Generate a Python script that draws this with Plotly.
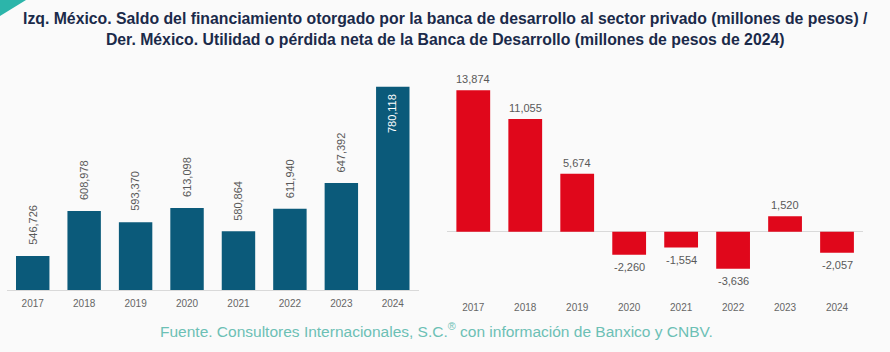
import plotly.graph_objects as go

years = ["2017", "2018", "2019", "2020", "2021", "2022", "2023", "2024"]
saldo = [546726, 608978, 593370, 613098, 580864, 611940, 647392, 780118]
utilidad = [13874, 11055, 5674, -2260, -1554, -3636, 1520, -2057]

title_text = ("Izq. México. Saldo del financiamiento otorgado por la banca de desarrollo al sector privado (millones de pesos) /<br>"
              "Der. México. Utilidad o pérdida neta de la Banca de Desarrollo (millones de pesos de 2024)")
source_text = "Fuente. Consultores Internacionales, S.C.<sup>®</sup> con información de Banxico y CNBV."

W, H = 890, 352
BLUE = "#0B5A7A"
RED = "#E0071B"
LBL = "#595959"
BG = "#FAFAFA"

def fmt(v):
    return f"{v:,}"

idx = list(range(len(years)))

fig = go.Figure()
fig.add_trace(go.Bar(x=idx, y=saldo, marker=dict(color=BLUE, line=dict(width=0)),
                     xaxis="x", yaxis="y", hoverinfo="skip"))
fig.add_trace(go.Bar(x=idx, y=utilidad, marker=dict(color=RED, line=dict(width=0)),
                     xaxis="x2", yaxis="y2", hoverinfo="skip"))

annotations = []
last = len(years) - 1
for i, v in zip(idx, saldo):
    if i == last:
        annotations.append(dict(x=i, y=v, xref="x", yref="y", text=fmt(v), textangle=-90,
                                showarrow=False, yanchor="top", yshift=-5,
                                font=dict(family="Liberation Sans, Arial", size=11, color="white")))
    else:
        annotations.append(dict(x=i, y=v, xref="x", yref="y", text=fmt(v), textangle=-90,
                                showarrow=False, yanchor="bottom", yshift=9,
                                font=dict(family="Liberation Sans, Arial", size=11, color=LBL)))
for i, v in zip(idx, utilidad):
    annotations.append(dict(x=i, y=v, xref="x2", yref="y2", text=fmt(v),
                            showarrow=False, yanchor="bottom" if v >= 0 else "top",
                            yshift=3 if v >= 0 else -4,
                            font=dict(family="Liberation Sans, Arial", size=11, color=LBL)))

annotations.append(dict(x=0.5, y=1 - 29 / H, xref="paper", yref="paper", text=title_text,
                        showarrow=False, xanchor="center", yanchor="middle",
                        font=dict(family="Liberation Sans Narrow, Arial Narrow, Liberation Sans", size=15.8,
                                  color="#1B2A4A", weight="bold")))
annotations.append(dict(x=436 / W, y=1 - 330 / H, xref="paper", yref="paper", text=source_text,
                        showarrow=False, xanchor="center", yanchor="middle",
                        font=dict(family="Liberation Sans Narrow, Arial Narrow, Liberation Sans", size=15.5,
                                  color="#6CC0B5")))

tickfont = dict(family="Liberation Sans, Arial", size=10, color="#666666")
fig.update_layout(
    width=W, height=H, margin=dict(l=0, r=0, t=0, b=0),
    paper_bgcolor=BG, plot_bgcolor=BG, showlegend=False, bargap=0.35,
    annotations=annotations,
    shapes=[dict(type="path", xref="paper", yref="paper",
                 path=f"M 0 1 L {26 / W} 1 L 0 {1 - 16 / H} Z",
                 fillcolor="#2CB5AA", line=dict(width=0))],
    xaxis=dict(domain=[7 / W, 418.5 / W], anchor="y", range=[-0.5, len(years) - 0.5],
               tickmode="array", tickvals=idx, ticktext=years, showline=True,
               linecolor="#D9D9D9", linewidth=1, ticks="", showgrid=False, zeroline=False,
               ticklabelstandoff=4, tickfont=tickfont),
    yaxis=dict(domain=[1 - 290 / H, 1 - 80 / H], anchor="x", range=[500000, 789500], visible=False,
               showgrid=False),
    xaxis2=dict(domain=[447.3 / W, 863 / W], anchor="y2", range=[-0.5, len(years) - 0.5],
                tickmode="array", tickvals=idx, ticktext=years, showline=False, ticks="",
                showgrid=False, zeroline=False, ticklabelstandoff=4, tickfont=tickfont),
    yaxis2=dict(domain=[1 - 296 / H, 1 - 75 / H], anchor="x2", range=[-6301, 15357], showgrid=False,
                showticklabels=False, zeroline=True, zerolinecolor="#D9D9D9", zerolinewidth=1),
)

fig.write_html("out.html")
